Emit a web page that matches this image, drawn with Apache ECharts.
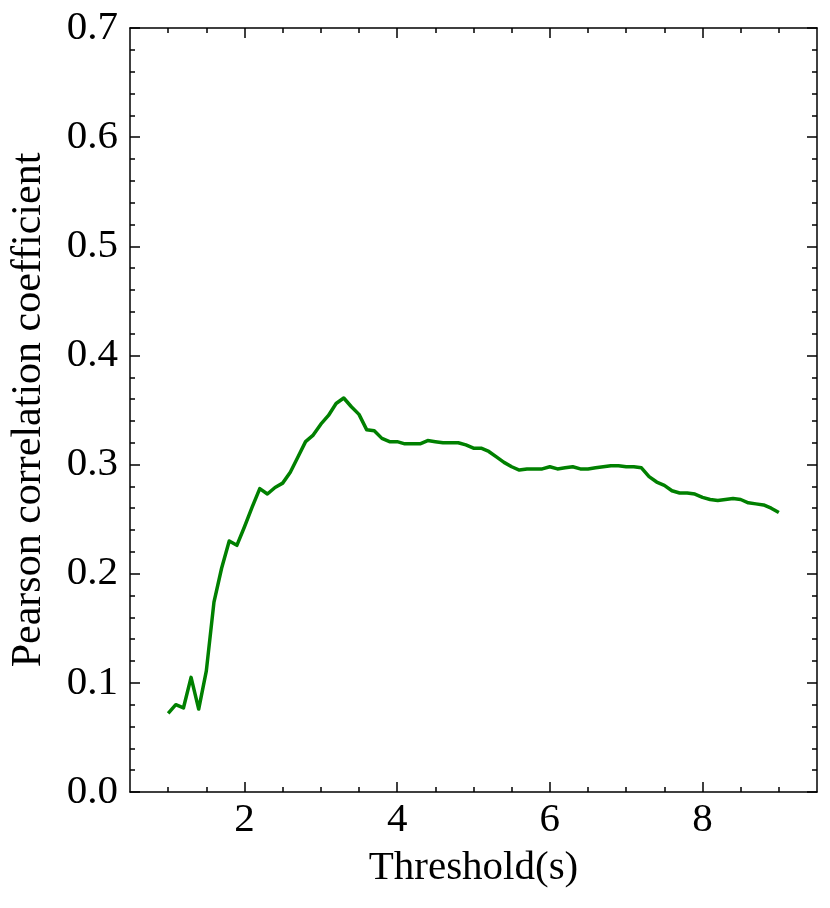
<!DOCTYPE html>
<html>
<head>
<meta charset="utf-8">
<script src="https://cdn.jsdelivr.net/npm/echarts@6/dist/echarts.min.js"></script>
<style>
html,body{margin:0;padding:0;background:#fff;}
#chart{width:830px;height:908px;}
</style>
</head>
<body>
<div id="chart"></div>
<script>
var thresholds = [1.0,1.1,1.2,1.3,1.4,1.5,1.6,1.7,1.8,1.9,
  2.0,2.1,2.2,2.3,2.4,2.5,2.6,2.7,2.8,2.9,
  3.0,3.1,3.2,3.3,3.4,3.5,3.6,3.7,3.8,3.9,
  4.0,4.1,4.2,4.3,4.4,4.5,4.6,4.7,4.8,4.9,
  5.0,5.1,5.2,5.3,5.4,5.5,5.6,5.7,5.8,5.9,
  6.0,6.1,6.2,6.3,6.4,6.5,6.6,6.7,6.8,6.9,
  7.0,7.1,7.2,7.3,7.4,7.5,7.6,7.7,7.8,7.9,
  8.0,8.1,8.2,8.3,8.4,8.5,8.6,8.7,8.8,8.9,9.0];
var pearson = [0.072,0.080,0.077,0.105,0.076,0.111,0.174,0.205,0.230,0.226,
  0.243,0.261,0.278,0.273,0.279,0.283,0.293,0.307,0.321,0.327,
  0.337,0.345,0.356,0.361,0.353,0.346,0.332,0.331,0.324,0.321,
  0.321,0.319,0.319,0.319,0.322,0.321,0.320,0.320,0.320,0.318,
  0.315,0.315,0.312,0.307,0.302,0.298,0.295,0.296,0.296,0.296,
  0.298,0.296,0.297,0.298,0.296,0.296,0.297,0.298,0.299,0.299,
  0.298,0.298,0.297,0.289,0.284,0.281,0.276,0.274,0.274,0.273,
  0.270,0.268,0.267,0.268,0.269,0.268,0.265,0.264,0.263,0.260,0.256];
var xMajorTicks = [2,4,6,8];
var xMinorTicks = [1,1.5,2.5,3,3.5,4.5,5,5.5,6.5,7,7.5,8.5,9];

var seriesData = thresholds.map(function(t,i){return [t,pearson[i]];});
var FONT = 'Liberation Serif';
var lineStyle = {color:'#000', width:1.5};

function xAxisDef(pos, ticks, len, showLine, showLabel, name){
  return {
    type:'value', position:pos, min:0.5, max:9.5,
    name: name || '', nameLocation:'middle', nameGap:56,
    nameTextStyle:{fontFamily:FONT, fontSize:41, color:'#000'},
    axisLine:{show:showLine, onZero:false, lineStyle:lineStyle},
    axisTick:{show:true, inside:true, length:len, customValues:ticks, lineStyle:lineStyle},
    axisLabel:{show:showLabel, customValues:xMajorTicks, fontFamily:FONT, fontSize:41, color:'#000', margin:8},
    splitLine:{show:false}
  };
}
function yAxisDef(pos, showLabel, name){
  return {
    type:'value', position:pos, min:0, max:0.7, interval:0.1,
    name: name || '', nameLocation:'middle', nameGap:80,
    nameTextStyle:{fontFamily:FONT, fontSize:42, color:'#000'},
    axisLine:{show:true, onZero:false, lineStyle:lineStyle},
    axisTick:{show:true, inside:true, length:10, lineStyle:lineStyle},
    minorTick:{show:true, splitNumber:5, length:5, lineStyle:lineStyle},
    axisLabel:{show:showLabel, fontFamily:FONT, fontSize:41, color:'#000', margin:12,
      formatter:function(v){return v.toFixed(1);}},
    splitLine:{show:false}, minorSplitLine:{show:false}
  };
}

var chart = echarts.init(document.getElementById('chart'), null, {renderer:'canvas'});
chart.setOption({
  backgroundColor:'#fff',
  animation:false,
  grid:{left:130, right:13, top:28, bottom:116},
  xAxis:[
    xAxisDef('bottom', xMajorTicks, 10, true, true, 'Threshold(s)'),
    xAxisDef('bottom', xMinorTicks, 5, false, false),
    xAxisDef('top', xMajorTicks, 10, true, false),
    xAxisDef('top', xMinorTicks, 5, false, false)
  ],
  yAxis:[
    yAxisDef('left', true, 'Pearson correlation coefficient'),
    yAxisDef('right', false)
  ],
  series:[{
    type:'line', xAxisIndex:0, yAxisIndex:0, data:seriesData,
    showSymbol:false, symbol:'none',
    lineStyle:{color:'#008000', width:3.5, join:'round'}
  }]
});
</script>
</body>
</html>
